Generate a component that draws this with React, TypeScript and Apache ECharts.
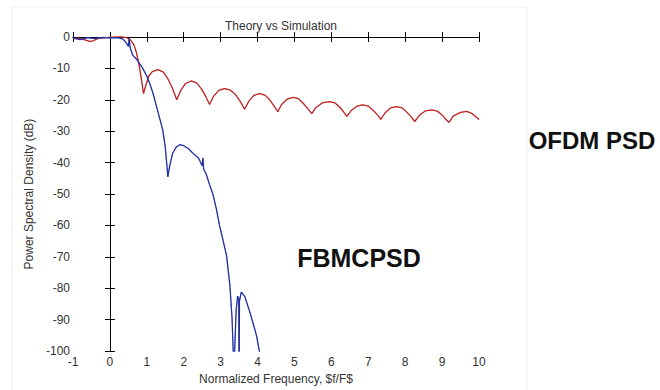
import React, { useEffect, useRef } from "react";
import * as echarts from "echarts";

const xTicks = [-1, 0, 1, 2, 3, 4, 5, 6, 7, 8, 9, 10];
const yTicks = [-100, -90, -80, -70, -60, -50, -40, -30, -20, -10, 0];

const ofdmFreq = [
  -1, -0.85, -0.7, -0.55, -0.45, -0.3, -0.1, 0.1, 0.3, 0.45, 0.55, 0.65, 0.72, 0.8, 0.86, 0.91,
  0.97, 1.05, 1.15, 1.3, 1.45, 1.58, 1.7, 1.81, 1.92, 2.05, 2.2, 2.35, 2.48, 2.6, 2.7,
  2.8, 2.95, 3.1, 3.25, 3.4, 3.53, 3.65, 3.76, 3.9, 4.05, 4.2, 4.33, 4.45, 4.55,
  4.65, 4.8, 4.97, 5.1, 5.23, 5.36, 5.47, 5.58, 5.75, 5.95, 6.1, 6.22, 6.33, 6.42,
  6.53, 6.7, 6.85, 7.0, 7.13, 7.25, 7.34, 7.45, 7.6, 7.77, 7.92, 8.05, 8.17, 8.26,
  8.38, 8.55, 8.72, 8.87, 9.0, 9.1, 9.19, 9.3, 9.5, 9.67, 9.8, 9.92, 10,
];
const ofdmPsd = [
  -0.5, -0.4, -0.8, -1.4, -1.2, -0.4, -0.2, 0, 0.1, -0.2, -0.8, -2.5, -5, -9.5, -14, -18,
  -15.5, -12.5, -11, -10.4, -11.2, -13.5, -16.5, -20, -17, -14.8, -14, -14.6, -16.5, -19, -21.5,
  -19, -17, -16.4, -16.8, -18.3, -20.5, -23, -20.5, -18.6, -18, -18.5, -20, -22, -23.8,
  -21.5, -19.8, -19.2, -19.6, -21, -22.8, -24.4, -22.5, -21, -20.6, -21, -22.3, -23.8, -25.3,
  -23.5, -22, -21.6, -22, -23.3, -24.8, -26.2, -24.2, -22.6, -22.2, -22.6, -24, -25.5, -26.9,
  -25, -23.5, -23.2, -23.6, -24.8, -26.2, -27.2, -25.2, -24, -23.7, -24.3, -25.5, -26.3,
];

const fbmcFreq = [
  -1, -0.8, -0.6, -0.4, -0.2, 0, 0.2, 0.35, 0.45, 0.5, 0.52, 0.55, 0.62, 0.75, 0.89, 1.0,
  1.08, 1.17, 1.26, 1.35, 1.43, 1.5, 1.57, 1.62, 1.7, 1.8, 1.89, 2.0, 2.12, 2.25, 2.4,
  2.5, 2.52, 2.54, 2.62, 2.7, 2.79, 2.88, 2.97, 3.07, 3.16, 3.25, 3.31, 3.34, 3.36,
  3.37, 3.38, 3.42, 3.46, 3.49, 3.5, 3.51, 3.56, 3.65, 3.79, 3.9, 3.97, 4.05, 4.1,
];
const fbmcPsd = [
  -0.3, -0.8, -0.2, -0.5, -0.1, -0.3, -0.2, -0.6, -2, -3, -0.5, -3.5, -5.8, -7.5, -10, -12.5,
  -14.8, -18, -22, -26, -29.5, -35, -44.5, -41, -37, -35, -34.3, -34.6, -35.5, -37, -38.5,
  -41, -38.5, -42, -44, -47, -50, -54.5, -60, -65, -69.6, -79, -89.6, -100, -110,
  -110, -100, -87, -82.5, -83.5, -110, -84, -81.2, -82.5, -87.5, -92, -95, -100, -110,
];

const ofdmData = ofdmFreq.map((f, i) => [f, ofdmPsd[i]]);
const fbmcData = fbmcFreq.map((f, i) => [f, fbmcPsd[i]]);

const FONT = "'Liberation Sans', Arial, sans-serif";

export default function App() {
  const ref = useRef<HTMLDivElement>(null);
  useEffect(() => {
    if (!ref.current) return;
    const chart = echarts.init(ref.current, undefined, { renderer: "svg" });
    const axisLine = { show: true, lineStyle: { color: "#000", width: 1 } };
    const axisTick = { show: true, inside: true, length: 5, lineStyle: { color: "#000" } };
    chart.setOption({
      animation: false,
      backgroundColor: "#fff",
      title: {
        text: "Theory vs Simulation",
        left: 276,
        textAlign: "center",
        top: 15,
        textStyle: { fontSize: 12, fontWeight: "normal", color: "#333", fontFamily: FONT },
      },
      grid: { left: 73, right: 181, top: 37, bottom: 34 },
      xAxis: [
        {
          type: "value",
          min: -1,
          max: 10,
          interval: 1,
          position: "bottom",
          axisLine,
          axisTick,
          splitLine: { show: false },
          axisLabel: { color: "#333", fontSize: 12, margin: 5, fontFamily: FONT, formatter: (v: number) => (xTicks.includes(v) ? String(v) : "") },
          name: "Normalized Frequency, $f/F$",
          nameLocation: "middle",
          nameGap: 20,
          nameTextStyle: { color: "#333", fontSize: 12, fontFamily: FONT },
        },
        {
          type: "value",
          min: -1,
          max: 10,
          interval: 1,
          position: "top",
          axisLine,
          axisTick,
          splitLine: { show: false },
          axisLabel: { show: false },
        },
      ],
      yAxis: [
        {
          type: "value",
          min: -100,
          max: 0,
          interval: 10,
          position: "left",
          axisLine,
          axisTick,
          splitLine: { show: false },
          axisLabel: { color: "#333", fontSize: 12, margin: 3, fontFamily: FONT, formatter: (v: number) => (yTicks.includes(v) ? String(v) : "") },
          name: "Power Spectral Density (dB)",
          nameLocation: "middle",
          nameGap: 34,
          nameTextStyle: { color: "#333", fontSize: 12, fontFamily: FONT },
        },
        {
          type: "value",
          min: -100,
          max: 0,
          interval: 10,
          position: "right",
          axisLine,
          axisTick,
          splitLine: { show: false },
          axisLabel: { show: false },
        },
      ],
      series: [
        {
          name: "OFDM",
          type: "line",
          data: ofdmData,
          showSymbol: false,
          clip: true,
          lineStyle: { color: "#d42a2a", width: 1.3 },
        },
        {
          name: "OFDM theory",
          type: "line",
          data: ofdmData,
          showSymbol: false,
          clip: true,
          lineStyle: { color: "#7a1a1a", width: 0.6, type: "dotted" },
        },
        {
          name: "FBMC",
          type: "line",
          data: fbmcData,
          showSymbol: false,
          clip: true,
          lineStyle: { color: "#2a3cc8", width: 1.3 },
        },
        {
          name: "FBMC theory",
          type: "line",
          data: fbmcData,
          showSymbol: false,
          clip: true,
          lineStyle: { color: "#1a2450", width: 0.8, type: "dotted" },
        },
      ],
      graphic: [
        {
          type: "rect",
          shape: { x: 12, y: 7, width: 515, height: 390 },
          style: { fill: "none", stroke: "#efefef", lineWidth: 1 },
          silent: true,
          z: -10,
        },
        {
          type: "text",
          x: 359,
          y: 258,
          style: {
            text: "FBMCPSD",
            fontSize: 25,
            fontWeight: "bold",
            fontFamily: FONT,
            fill: "#111",
            textAlign: "center",
            textVerticalAlign: "middle",
          },
        },
        {
          type: "text",
          x: 592,
          y: 140,
          style: {
            text: "OFDM PSD",
            fontSize: 24,
            fontWeight: "bold",
            fontFamily: FONT,
            fill: "#111",
            textAlign: "center",
            textVerticalAlign: "middle",
          },
        },
      ],
    });
    return () => chart.dispose();
  }, []);
  return <div ref={ref} style={{ width: 660, height: 390, position: "absolute", left: 0, top: 0 }} />;
}
